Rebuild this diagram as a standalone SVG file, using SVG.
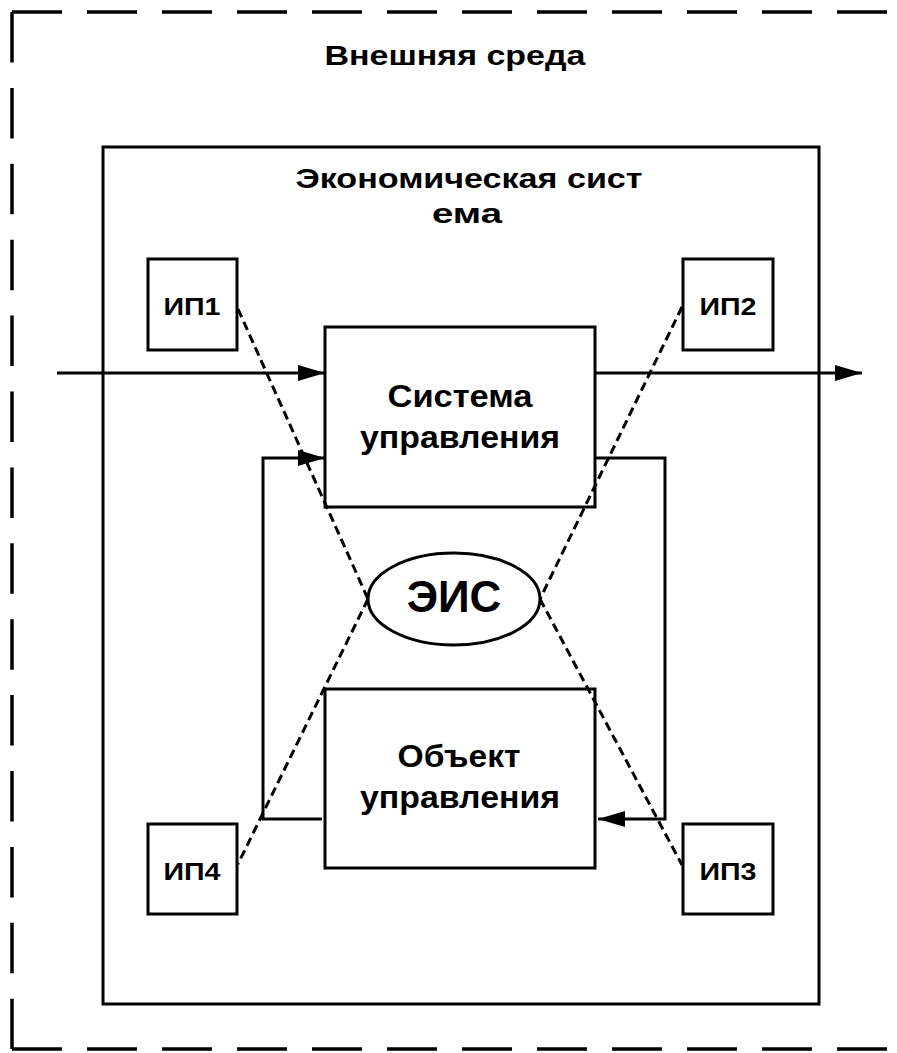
<svg xmlns="http://www.w3.org/2000/svg" width="897" height="1053" viewBox="0 0 897 1053">
<defs>
<style>
.t{font-family:"Liberation Sans",Arial,sans-serif;font-weight:bold;fill:#000;text-anchor:middle}
.box{fill:#fff;stroke:#000;stroke-width:3}
.nf{fill:none;stroke:#000;stroke-width:3}
.ln{fill:none;stroke:#000;stroke-width:3}
.dl{fill:none;stroke:#000;stroke-width:3;stroke-dasharray:9 5}
.envh{fill:none;stroke:#000;stroke-width:3.5;stroke-dasharray:50 25}
.envv{fill:none;stroke:#000;stroke-width:3.5;stroke-dasharray:50.5 25.4}
</style>
<marker id="ah" viewBox="0 0 10 10" refX="10" refY="5" markerWidth="27" markerHeight="16" markerUnits="userSpaceOnUse" orient="auto" preserveAspectRatio="none">
<path d="M0,0 L10,5 L0,10 z" fill="#000"/>
</marker>
</defs>
<g id="external">
<path class="envh" d="M12,12 L897,12"/>
<path class="envv" d="M12,12 L12,1049"/>
<path class="envh" d="M12,1049 L897,1049"/>
<text class="t" x="455" y="65" font-size="28" textLength="261" lengthAdjust="spacingAndGlyphs">Внешняя среда</text>
</g>
<g id="economic-system">
<rect class="box" x="103" y="147" width="716" height="857"/>
<text class="t" x="469" y="188" font-size="28" textLength="347" lengthAdjust="spacingAndGlyphs">Экономическая сист</text>
<text class="t" x="467" y="223" font-size="28" textLength="70" lengthAdjust="spacingAndGlyphs">ема</text>
</g>
<g id="connectors">
<line class="ln" x1="57" y1="373" x2="325" y2="373" marker-end="url(#ah)"/>
<line class="ln" x1="595" y1="373" x2="862" y2="373" marker-end="url(#ah)"/>
<path class="ln" d="M322,819 L263,819 L263,458 L325,458" marker-end="url(#ah)"/>
<path class="ln" d="M595,458 L665,458 L665,819 L598,819" marker-end="url(#ah)"/>
<line class="dl" x1="238" y1="309" x2="368" y2="599"/>
<line class="dl" x1="368" y1="599" x2="238" y2="864"/>
<line class="dl" x1="682" y1="307" x2="540" y2="599"/>
<line class="dl" x1="540" y1="599" x2="682" y2="865"/>
</g>
<g id="ip1">
<rect class="box" x="148" y="259" width="89" height="91"/>
<text class="t" x="192" y="315" font-size="24" textLength="57" lengthAdjust="spacingAndGlyphs">ИП1</text>
</g>
<g id="ip2">
<rect class="box" x="683" y="259" width="90" height="91"/>
<text class="t" x="728" y="315" font-size="24" textLength="57" lengthAdjust="spacingAndGlyphs">ИП2</text>
</g>
<g id="ip3">
<rect class="box" x="683" y="824" width="90" height="90"/>
<text class="t" x="728" y="880" font-size="24" textLength="57" lengthAdjust="spacingAndGlyphs">ИП3</text>
</g>
<g id="ip4">
<rect class="box" x="148" y="824" width="89" height="90"/>
<text class="t" x="192" y="880" font-size="24" textLength="57" lengthAdjust="spacingAndGlyphs">ИП4</text>
</g>
<g id="control-system">
<rect class="nf" x="325" y="327" width="270" height="180"/>
<text class="t" x="460" y="407" font-size="32" textLength="145" lengthAdjust="spacingAndGlyphs">Система</text>
<text class="t" x="460" y="448" font-size="32" textLength="200" lengthAdjust="spacingAndGlyphs">управления</text>
</g>
<g id="eis">
<ellipse class="nf" cx="454" cy="599" rx="86" ry="46"/>
<text class="t" x="454" y="612" font-size="44">ЭИС</text>
</g>
<g id="control-object">
<rect class="nf" x="325" y="689" width="270" height="179"/>
<text class="t" x="459" y="767" font-size="32" textLength="123" lengthAdjust="spacingAndGlyphs">Объект</text>
<text class="t" x="460" y="808" font-size="32" textLength="200" lengthAdjust="spacingAndGlyphs">управления</text>
</g>
</svg>
